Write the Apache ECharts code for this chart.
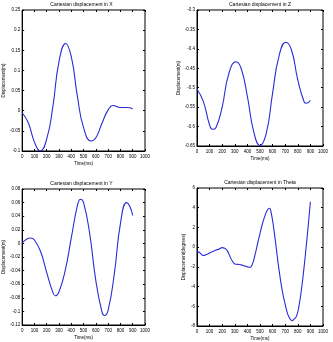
<!DOCTYPE html>
<html>
<head>
<meta charset="utf-8">
<script src="https://cdn.jsdelivr.net/npm/echarts@6/dist/echarts.min.js"></script>
<style>
  html, body { margin: 0; padding: 0; background: #fff; }
  #main { width: 333px; height: 342px; }
</style>
</head>
<body>
<div id="main"></div>
<script>
// values (time in ms)
var timeX = [0, 50, 100, 147, 200, 250, 300, 354, 400, 450, 500, 561, 600, 650, 700, 740, 800, 850, 900];
var dispX = [-0.005, -0.03, -0.078, -0.1, -0.07, 0.01, 0.122, 0.167, 0.134, 0.035, -0.042, -0.075, -0.067, -0.031, 0.002, 0.013, 0.008, 0.008, 0.005];

var timeZ = [0, 50, 100, 124, 150, 200, 250, 309, 350, 400, 450, 500, 550, 600, 650, 705, 750, 800, 850, 870, 900];
var dispZ = [-0.504, -0.535, -0.596, -0.607, -0.603, -0.549, -0.467, -0.433, -0.45, -0.523, -0.613, -0.649, -0.617, -0.514, -0.42, -0.383, -0.403, -0.48, -0.536, -0.54, -0.533];

var timeY = [0, 70, 100, 150, 200, 250, 270, 300, 350, 400, 450, 475, 500, 550, 600, 650, 670, 700, 750, 800, 850, 875, 900];
var dispY = [0.0006, 0.008, 0.005, -0.012, -0.043, -0.072, -0.077, -0.071, -0.04, 0.008, 0.056, 0.065, 0.06, 0.014, -0.055, -0.101, -0.106, -0.098, -0.045, 0.029, 0.06, 0.055, 0.041];

var timeT = [0, 25, 50, 75, 100, 125, 150, 175, 200, 220, 240, 260, 280, 300, 325, 350, 375, 400, 420, 440, 460, 480, 500, 520, 540, 560, 575, 590, 610, 630, 650, 675, 700, 720, 740, 755, 770, 790, 810, 830, 850, 870, 885, 900];
var dispT = [-0.4, -0.6, -0.85, -0.75, -0.6, -0.45, -0.3, -0.2, -0.05, -0.1, -0.35, -0.9, -1.4, -1.7, -1.75, -1.8, -1.9, -2.0, -2.05, -1.7, -0.8, 0.3, 1.4, 2.4, 3.2, 3.8, 3.95, 3.4, 1.8, -0.2, -2.2, -4.3, -5.8, -6.8, -7.3, -7.45, -7.3, -7.0, -5.9, -4.2, -2.0, 0.5, 2.5, 4.6];

var titles = ['Cartesian displacement in X', 'Cartesian displacement in Z', 'Cartesian displacement in Y', 'Cartesian displacement in Theta'];
var yNames = ['Displacement(m)', 'Displacement(m)', 'Displacement(m)', 'Displacement(degrees)'];
var yRanges = [[-0.1, 0.25, 0.05], [-0.65, -0.3, 0.05], [-0.12, 0.08, 0.02], [-8, 6, 2]];

function pairs(t, v) {
  return t.map(function (x, i) { return [x, v[i]]; });
}
var seriesData = [pairs(timeX, dispX), pairs(timeZ, dispZ), pairs(timeY, dispY), pairs(timeT, dispT)];

var grids = [
  { left: 18, top: 10, width: 127, height: 141 },
  { left: 197, top: 10, width: 126, height: 136 },
  { left: 18, top: 189, width: 127, height: 136 },
  { left: 197, top: 188, width: 126, height: 138 }
];

var font = { fontFamily: 'Liberation Sans', fontSize: 4.5, color: '#000' };
var tick = { show: true, inside: true, length: 2, lineStyle: { color: '#000' } };
var num = function (v) { return String(parseFloat(v.toFixed(2))); };

var option = { backgroundColor: '#fff', animation: false, title: [], grid: [], xAxis: [], yAxis: [], series: [] };

grids.forEach(function (g, i) {
  option.grid.push({ left: g.left, top: g.top, width: g.width, height: g.height, show: true, borderColor: '#000', borderWidth: 1, backgroundColor: '#fff' });
  option.title.push({
    text: titles[i], left: g.left + g.width / 2, top: g.top - 8, textAlign: 'center', padding: 0,
    textStyle: { fontFamily: 'Liberation Sans', fontSize: 5, fontWeight: 'normal', color: '#000' }
  });
  // bottom axis with labels
  option.xAxis.push({
    type: 'value', gridIndex: i, min: 0, max: 1000, interval: 100,
    name: 'Time(ms)', nameLocation: 'middle', nameGap: 10,
    nameTextStyle: font,
    axisLine: { show: true, onZero: false, lineStyle: { color: '#000', width: 1 } },
    axisTick: tick,
    axisLabel: { fontFamily: 'Liberation Sans', fontSize: 4.5, color: '#000', margin: 3, formatter: num },
    splitLine: { show: false }
  });
  // top mirror ticks
  option.xAxis.push({
    type: 'value', gridIndex: i, position: 'top', min: 0, max: 1000, interval: 100,
    axisLine: { show: false, onZero: false },
    axisTick: tick,
    axisLabel: { show: false }, splitLine: { show: false }
  });
  var r = yRanges[i];
  option.yAxis.push({
    type: 'value', gridIndex: i, min: r[0], max: r[1], interval: r[2],
    name: yNames[i], nameLocation: 'middle', nameGap: i % 2 === 0 ? 12 : 11,
    nameTextStyle: font,
    axisLine: { show: true, onZero: false, lineStyle: { color: '#000', width: 1 } },
    axisTick: tick,
    axisLabel: { fontFamily: 'Liberation Sans', fontSize: 4.5, color: '#000', margin: 2, formatter: num },
    splitLine: { show: false }
  });
  option.yAxis.push({
    type: 'value', gridIndex: i, position: 'right', min: r[0], max: r[1], interval: r[2],
    axisLine: { show: false, onZero: false },
    axisTick: tick,
    axisLabel: { show: false }, splitLine: { show: false }
  });
  option.series.push({
    type: 'line', xAxisIndex: i * 2, yAxisIndex: i * 2, data: seriesData[i],
    smooth: 0.5, showSymbol: false, clip: true,
    lineStyle: { color: '#2b2bd6', width: 1.1 }
  });
});

var chart = echarts.init(document.getElementById('main'), null, { renderer: 'canvas' });
chart.setOption(option);
</script>
</body>
</html>
